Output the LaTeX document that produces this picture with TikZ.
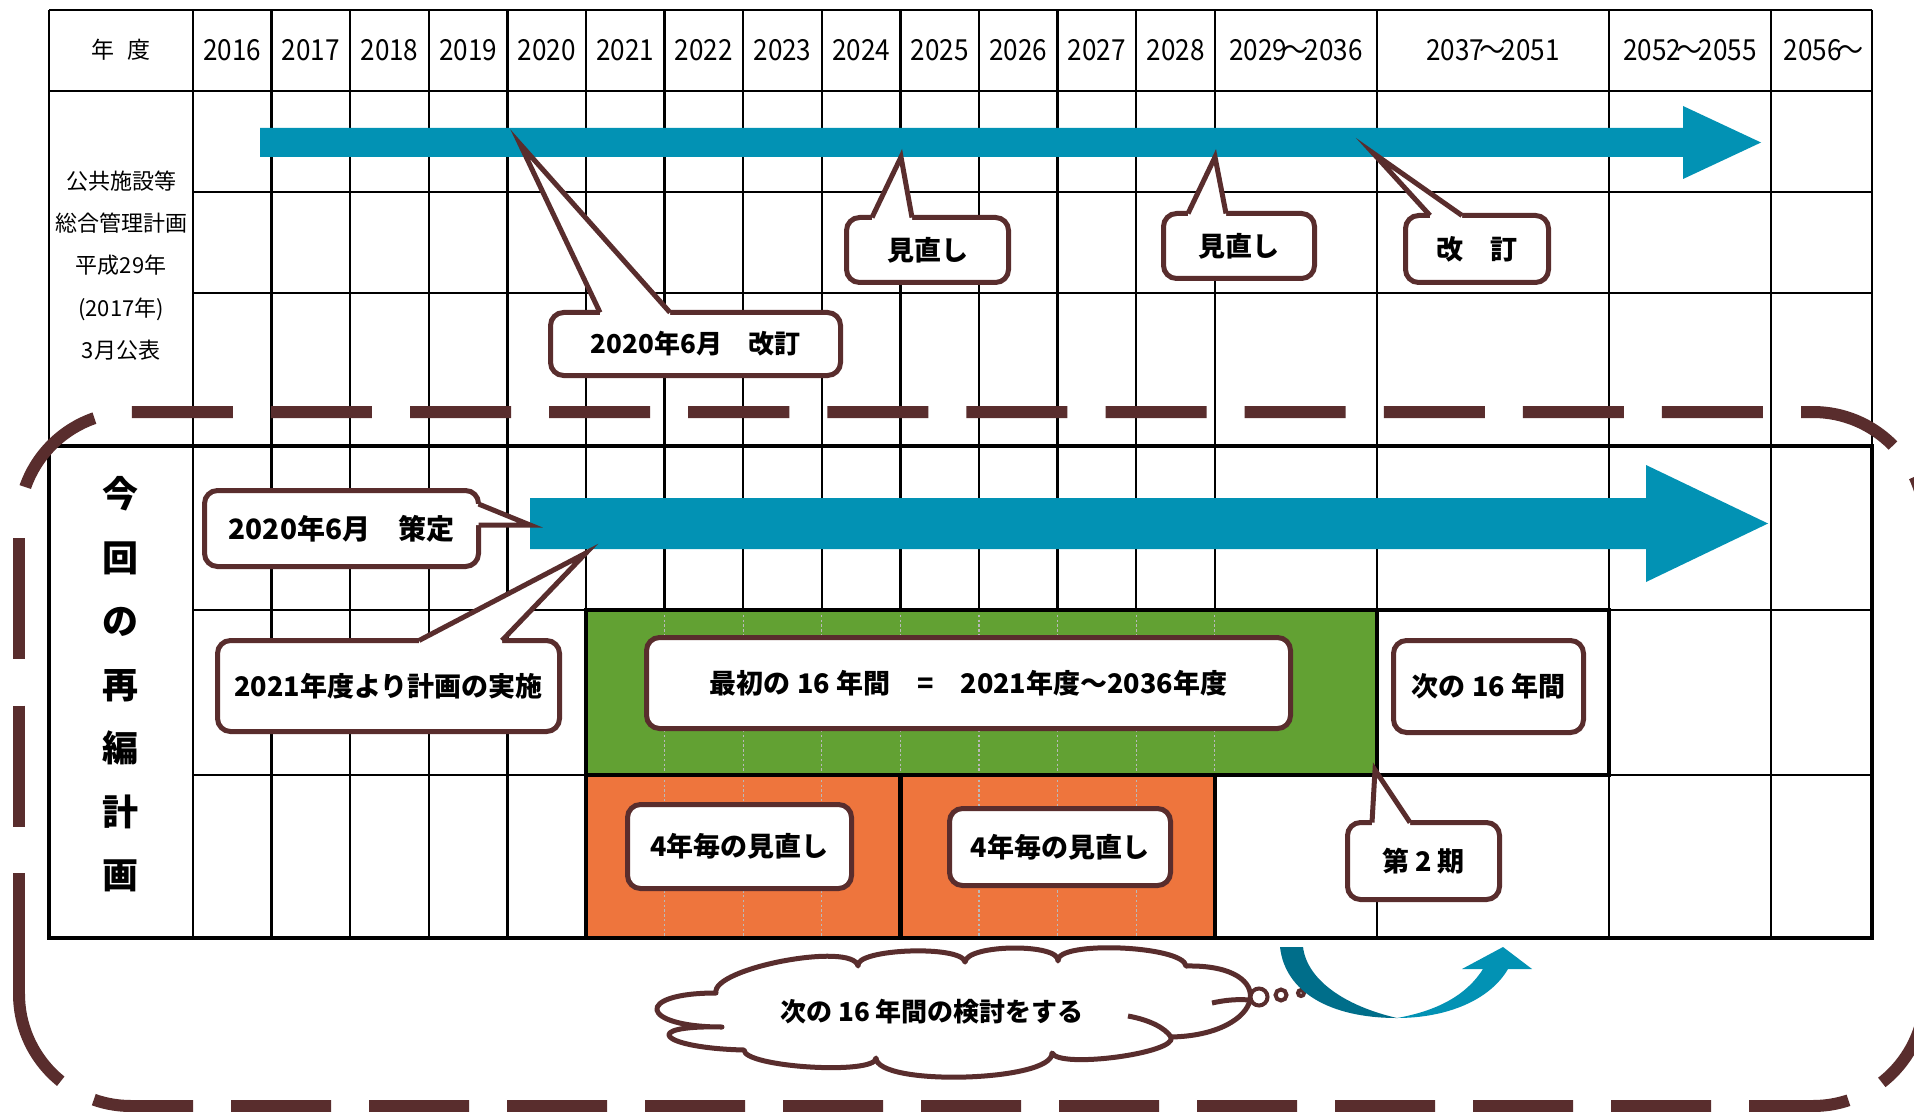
\documentclass[tikz,border=0pt]{standalone}
\usepackage{fontspec}
\setmainfont{Noto Sans CJK JP}
\newfontfamily\yrfont{Noto Sans CJK JP}[FakeStretch=0.9]
\definecolor{tealA}{RGB}{2,146,180}
\definecolor{tealB}{RGB}{0,110,138}
\definecolor{grnA}{RGB}{98,161,51}
\definecolor{orgA}{RGB}{238,117,61}
\definecolor{brnA}{RGB}{89,45,45}
\newcommand\calloutptr[5]{%
  \fill[white] #4 -- #1 -- #2 -- #3 -- #5 -- cycle;
  \draw[brnA, line width=2.5pt] #1 -- #2 -- #3;}
\newcommand\tl{\kern-0.15em～\kern-0.15em}
\begin{document}
\begin{tikzpicture}[x=0.5pt,y=-0.5pt,
  thinln/.style={line width=1.15pt},
  thickln/.style={line width=2.3pt},
  dotln/.style={line width=0.6pt, draw=gray!55, dash pattern=on 1.2pt off 1.2pt},
  yr/.style={font=\yrfont\fontsize{14.5}{17}\selectfont, inner sep=0pt},
  cbox/.style={draw=brnA, line width=2.5pt, fill=white, rounded corners=6.5pt, inner sep=0pt, outer sep=0pt, font=\bfseries\fontsize{13.5}{16}\selectfont},
  bubble/.style={circle, draw=brnA, fill=white, line width=2pt, inner sep=0pt},
  frame/.style={brnA, line width=6pt},
  ]
\fill[white] (0,0) rectangle (1914,1112);
\useasboundingbox (0,0) rectangle (1914,1112);

% ---- grid (thin)
\foreach \x in {49,193,271.6,350.2,428.8,507.4,586,664.6,743.2,821.8,900.4,979,1057.6,1136.2,1214.8,1377,1609,1771,1872}
  \draw[thinln] (\x,10) -- (\x,938);
\draw[thinln] (49,10) -- (1872,10);
\draw[thinln] (49,91) -- (1872,91);
\foreach \y in {192,293,610,775} \draw[thinln] (193,\y) -- (1872,\y);

% ---- coloured blocks
\fill[grnA] (586,610) rectangle (1377,775);
\fill[orgA] (586,775) rectangle (1214.8,938);
\foreach \x in {664.6,743.2,821.8,900.4,979,1057.6,1136.2,1214.8}
  \draw[dotln] (\x,610) -- (\x,775);
\foreach \x in {664.6,743.2,821.8,979,1057.6,1136.2}
  \draw[dotln] (\x,775) -- (\x,938);

% ---- thick borders
\draw[thickln] (49,446) rectangle (1872,938);
\draw[thickln] (586,610) rectangle (1377,775);
\draw[thickln] (586,775) rectangle (900.4,938);
\draw[thickln] (900.4,775) rectangle (1214.8,938);
\draw[thickln] (1377,610) rectangle (1609,775);

% ---- header texts
\node[font=\fontsize{11.5}{14}\selectfont, inner sep=0pt] (hdr) at (121,50) {年\hspace{0.6em}度};
\foreach \cx/\lb [count=\i] in {232.3/2016, 310.9/2017, 389.5/2018, 468.1/2019, 546.7/2020, 625.3/2021, 703.9/2022, 782.5/2023, 861.1/2024, 939.7/2025, 1018.3/2026, 1096.9/2027, 1175.5/2028, 1295.9/2029\tl2036, 1493/2037\tl2051, 1690/2052\tl2055, 1821.5/2056\tl}
  \node[yr] (yr\i) at (\cx,50) {\lb};

\node[font=\fontsize{11}{21.15}\selectfont, align=center, inner sep=0pt] (plan1) at (121,265.5)
  {公共施設等\\総合管理計画\\平成29年\\(2017年)\\3月公表};
\node[font=\bfseries\fontsize{18}{31.75}\selectfont, align=center, inner sep=0pt] (plan2) at (120,684.5)
  {今\\回\\の\\再\\編\\計\\画};

% ---- big arrows
\fill[tealA] (260,128) -- (1683,128) -- (1683,106) -- (1761,142.5) -- (1683,179) -- (1683,157) -- (260,157) -- cycle;
\fill[tealA] (530,498) -- (1646,498) -- (1646,465) -- (1768,523.5) -- (1646,582) -- (1646,549) -- (530,549) -- cycle;

% ---- dashed rounded frame (three runs so the dashes sit as in the picture)
\draw[frame, dash pattern=on 50.5pt off 19.05pt, dash phase=26.1pt, rounded corners=56pt]
  (1925,524) -- (1925,412) -- (19,412) -- (19,524);
\draw[frame, dash pattern=on 60.5pt off 23.25pt, dash phase=76.75pt]
  (19,524) -- (19,994);
\draw[frame, dash pattern=on 50pt off 19pt, rounded corners=56pt]
  (19,994) -- (19,1106) -- (1925,1106) -- (1925,524);

% ---- callouts
\coordinate (t1) at (520,144);
\coordinate (t2) at (901,157);
\coordinate (t3) at (1215,157);
\coordinate (t4) at (1373,153);
\coordinate (t5) at (530,525);
\coordinate (t6) at (586,553);
\coordinate (t11) at (1375,770);

\node[cbox, font=\bfseries\fontsize{13}{16}\selectfont, minimum width=145pt, minimum height=31.5pt] (c1) at (695.5,344) {2020年6月　改訂};
\calloutptr{(600,312.5)}{(t1)}{(670,312.5)}{(600,320)}{(670,320)}

\node[cbox, minimum width=81pt, minimum height=32.5pt] (c2) at (927.5,250) {見直し};
\calloutptr{(872,217.5)}{(t2)}{(912,217.5)}{(872,225)}{(912,225)}

\node[cbox, minimum width=75.5pt, minimum height=32.5pt] (c3) at (1239,246) {見直し};
\calloutptr{(1188,213.5)}{(t3)}{(1226,213.5)}{(1188,221)}{(1226,221)}

\node[cbox, minimum width=71.5pt, minimum height=33.5pt] (c4) at (1477,249) {改　訂};
\calloutptr{(1430,215.5)}{(t4)}{(1462,215.5)}{(1430,223)}{(1462,223)}

\node[cbox, font=\bfseries\fontsize{14}{16}\selectfont, minimum width=137pt, minimum height=38pt] (c5) at (341.5,528.5) {2020年6月　策定};
\calloutptr{(478.5,504)}{(t5)}{(478.5,525)}{(471,504)}{(471,525)}

\node[cbox, minimum width=171pt, minimum height=45.5pt] (c6) at (388.5,686) {2021年度より計画の実施};
\calloutptr{(419,640.5)}{(t6)}{(502,640.5)}{(419,648)}{(502,648)}

\node[cbox, minimum width=322pt, minimum height=45.5pt] (c7) at (968.5,683) {最初の 16 年間　=　2021年度～2036年度};
\node[cbox, minimum width=95pt, minimum height=46pt] (c8) at (1488.5,686.5) {次の 16 年間};
\node[cbox, minimum width=112pt, minimum height=42pt] (c9) at (739.5,846.5) {4年毎の見直し};
\node[cbox, minimum width=110.5pt, minimum height=38.5pt] (c10) at (1060,847) {4年毎の見直し};

\node[cbox, minimum width=76pt, minimum height=38.5pt] (c11) at (1423.5,861) {第 2 期};
\calloutptr{(1372,822.5)}{(t11)}{(1410,822.5)}{(1372,830)}{(1410,830)}

% ---- cloud
\draw[brnA, line width=2.5pt, fill=white, line join=round]
 (722,1027) .. controls (639.3,1027) and (633.3,993) .. (716,993)
 .. controls (710.7,968.3) and (852.7,941.3) .. (858,966)
 .. controls (854.7,948.7) and (961.7,944.7) .. (965,962)
 .. controls (967,944) and (1060,943) .. (1058,961)
 .. controls (1055.3,940.3) and (1183.3,945.3) .. (1186,966)
 .. controls (1281.3,964) and (1266.3,1035) .. (1171,1037)
 .. controls (1178.3,1053) and (1059.3,1069) .. (1052,1053)
 .. controls (1053.3,1081.7) and (877.3,1086.7) .. (876,1058)
 .. controls (876,1075.3) and (744,1067.3) .. (744,1050)
 .. controls (660,1048) and (638,1025) .. (722,1027) -- cycle;
\draw[brnA, line width=2.5pt] (1128,1016) .. controls (1150,1020) and (1165,1028) .. (1171,1037);
\draw[brnA, line width=2.5pt] (1212,1003) .. controls (1225,1000) and (1238,999) .. (1249,1000);
\node[font=\bfseries\fontsize{13}{16}\selectfont, inner sep=0pt] (cloudtxt) at (932,1012) {次の 16 年間の検討をする};
\node[bubble, minimum size=8.5pt] (b1) at (1259,997) {};
\node[bubble, minimum size=5.5pt] (b2) at (1281,995) {};
\node[bubble, minimum size=3pt] (b3) at (1301,993) {};

% ---- curved arrow
\fill[tealB] (1280,947) .. controls (1285,992) and (1330,1018) .. (1397,1018)
  .. controls (1345,1006) and (1307,980) .. (1303,947) -- cycle;
\fill[tealA] (1397,1018) .. controls (1447,1018) and (1490,1000) .. (1508,969)
  -- (1532,969) -- (1503,947) -- (1462,969) -- (1483,969)
  .. controls (1466,996) and (1436,1011) .. (1397,1018) -- cycle;
\end{tikzpicture}
\end{document}
